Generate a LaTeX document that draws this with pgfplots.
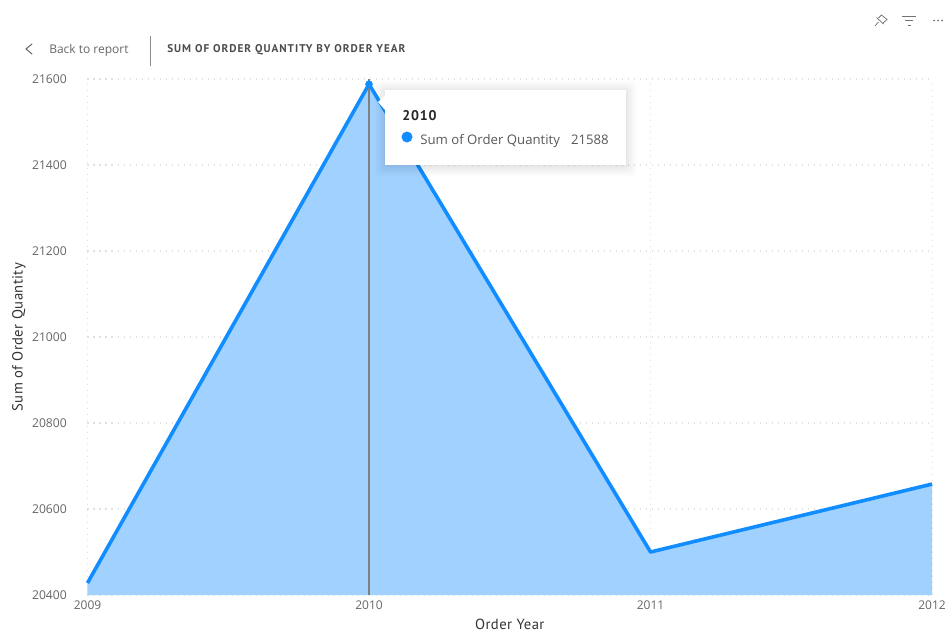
\documentclass[border=0pt]{standalone}
\usepackage{fontspec}
\setmainfont{Open Sans}
\newfontfamily\din[LetterSpace=3]{PT Sans}
\newfontfamily\dinsp[LetterSpace=9]{PT Sans}
\newfontfamily\dintip[LetterSpace=6]{PT Sans}
\usepackage{pgfplots}
\pgfplotsset{compat=1.18}

\definecolor{pbiblue}{HTML}{118DFF}
\definecolor{pbifill}{HTML}{A0D1FF}
\definecolor{ticktxt}{HTML}{666666}
\definecolor{gridc}{HTML}{E0E0E0}

\begin{document}
\begin{tikzpicture}
    \useasboundingbox (0,0) rectangle (710.25pt,-474.75pt);

    \begin{axis}[
        at={(65.625pt,-446.25pt)},
        anchor=south west,
        scale only axis,
        width=633.4pt,
        height=387pt,
        xmin=2009, xmax=2012,
        ymin=20400, ymax=21600,
        axis line style={draw=none},
        xtick={2009,2010,2011,2012},
        ytick={20400,20600,20800,21000,21200,21400,21600},
        scaled y ticks=false,
        scaled x ticks=false,
        major tick length=0pt,
        /pgf/number format/assume math mode=true,
        xticklabel style={/pgf/number format/1000 sep={}, font=\fontsize{9}{11}\selectfont, text=ticktxt, yshift=-1pt},
        yticklabel style={/pgf/number format/1000 sep={}, font=\fontsize{9.1}{11}\selectfont, text=ticktxt, xshift=-12pt},
        grid=major,
        grid style={draw=gridc, line width=0.8pt, dash pattern=on 0.9pt off 3.6pt},
        xlabel={Order Year},
        ylabel={Sum of Order Quantity},
        xlabel style={font=\din\fontsize{11}{12}\selectfont, text=black!80, inner sep=0pt, yshift=-3.6pt},
        ylabel style={font=\din\fontsize{11}{12}\selectfont, text=black!80, yshift=-2pt},
        clip=false,
    ]
    \addplot[fill=pbifill, draw=none] coordinates {
        (2009,20428) (2010,21588) (2011,20500) (2012,20658)
    } \closedcycle;
    \addplot[color=pbiblue, line width=2.7pt, line join=round] coordinates {
        (2009,20428) (2010,21588) (2011,20500) (2012,20658)
    };
    % hover line and the marker on the hovered point
    \addplot[color=black!50, line width=0.9pt] coordinates {(2010,20400) (2010,21600)};
    \addplot[only marks, mark=*, mark size=2.6pt, color=pbiblue] coordinates {(2010,21588)};
    \end{axis}

    \begin{scope}[x=0.75pt,y=-0.75pt]
    % tooltip
    \foreach \d/\o in {11/0.008,9/0.012,7/0.015,5/0.018,3/0.02,1/0.025}
        \fill[black, opacity=\o, rounded corners=3pt] (385-\d,90-\d+1) rectangle (626+\d,165+\d+1);
    \fill[white] (385,90) rectangle (626,165);
    \fill[white] (385,95) -- (378,102) -- (385,110) -- cycle;
    \node[anchor=west, inner sep=0pt, text=black!85] at (402,116) {\dintip\bfseries\fontsize{10.5}{12}\selectfont 2010};
    \fill[pbiblue] (407,137) circle (5.5);
    \node[anchor=base west, inner sep=0pt, text=black!65] at (420,144) {\fontsize{9.9}{12}\selectfont Sum of Order Quantity};
    \node[anchor=base east, inner sep=0pt, text=black!65] at (609,144) {\fontsize{9.9}{12}\selectfont 21588};

    % header
    \draw[black!60, line width=0.75pt, line cap=round] (32,44) -- (26,49) -- (32,54);
    \node[anchor=west, inner sep=0pt, text=black!60] at (49,50) {\fontsize{9}{11}\selectfont Back to report};
    \draw[black!45, line width=0.75pt] (150.5,36) -- (150.5,66);
    \node[anchor=west, inner sep=0pt, text=black!70] at (167,50) {\dinsp\bfseries\fontsize{8.4}{10}\selectfont SUM OF ORDER QUANTITY BY ORDER YEAR};

    % visual header icons
    \draw[black!55, line width=0.55pt] (875,26) -- (878.5,22) (876.5,17.5) -- (883.5,24) (878.5,18) -- (881.5,15) -- (887,19.5) -- (883,23);
    \draw[black!55, line width=0.7pt] (902,16) -- (916,16) (905,20.5) -- (913,20.5) (907.5,25) -- (910.5,25);
    \fill[black!55] (934,20.5) circle (1) (938,20.5) circle (1) (942,20.5) circle (1);
    \end{scope}
\end{tikzpicture}
\end{document}
